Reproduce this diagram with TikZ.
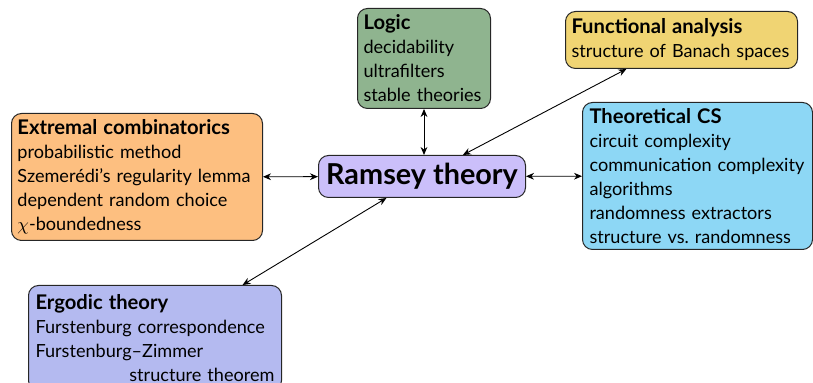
\documentclass[tikz,border=0pt]{standalone}
\usepackage{fontspec}
\setmainfont{Lato}
\usetikzlibrary{arrows.meta}
\definecolor{cext}{HTML}{FDBF80}
\definecolor{cram}{HTML}{CBBFFA}
\definecolor{clog}{HTML}{8FB48F}
\definecolor{cfun}{HTML}{F0D473}
\definecolor{ctcs}{HTML}{8DD7F5}
\definecolor{cerg}{HTML}{B4BAF0}
\newcommand{\hd}{\fontsize{10.1}{12}\selectfont\bfseries}
\begin{document}
\begin{tikzpicture}[x=0.5pt,y=-0.5pt,
  box/.style={draw=black!85, line width=0.5pt, rounded corners=5pt, anchor=north west,
    align=left, inner sep=0pt, font=\fontsize{9.05}{12}\selectfont},
  link/.style={{Stealth[length=4pt,width=3.4pt]}-{Stealth[length=4pt,width=3.4pt]}, line width=0.45pt}]
\useasboundingbox (0,0) rectangle (813,383);
\node[box, fill=cext, minimum width=125.5pt, minimum height=63.5pt, text width=119.5pt] (ext) at (11,113)
  {{\hd Extremal combinatorics}\\probabilistic method\\Szemerédi’s regularity lemma\\dependent random choice\\$\chi$-boundedness};
\node[box, fill=cram, minimum width=103.5pt, minimum height=21pt, align=center, font=\fontsize{14.4}{16}\selectfont\bfseries] (ram) at (318,155) {Ramsey theory};
\node[box, fill=clog, minimum width=66.5pt, minimum height=50pt, text width=60.5pt] (log) at (357,8)
  {{\hd Logic}\\decidability\\ultrafilters\\stable theories};
\node[box, fill=cfun, minimum width=116pt, minimum height=28.5pt, text width=110pt] (fun) at (565,11)
  {{\hd Functional analysis}\\structure of Banach spaces};
\node[box, fill=ctcs, minimum width=115pt, minimum height=73.5pt, text width=108pt] (tcs) at (582,102)
  {{\hd Theoretical CS}\\circuit complexity\\communication complexity\\algorithms\\randomness extractors\\structure vs.\ randomness};
\node[box, fill=cerg, minimum width=126.5pt, minimum height=52.5pt, text width=119.5pt] (erg) at (28,285)
  {{\hd Ergodic theory}\\Furstenburg correspondence\\Furstenburg--Zimmer\\\hspace*{\fill}structure theorem};
\draw[link] (ext) -- (ram);
\draw[link] (tcs) -- (ram);
\draw[link] (log.south) -- (log.south |- ram.north);
\draw[link] (ram) -- (fun);
\draw[link] (ram) -- (erg);
\end{tikzpicture}
\end{document}
